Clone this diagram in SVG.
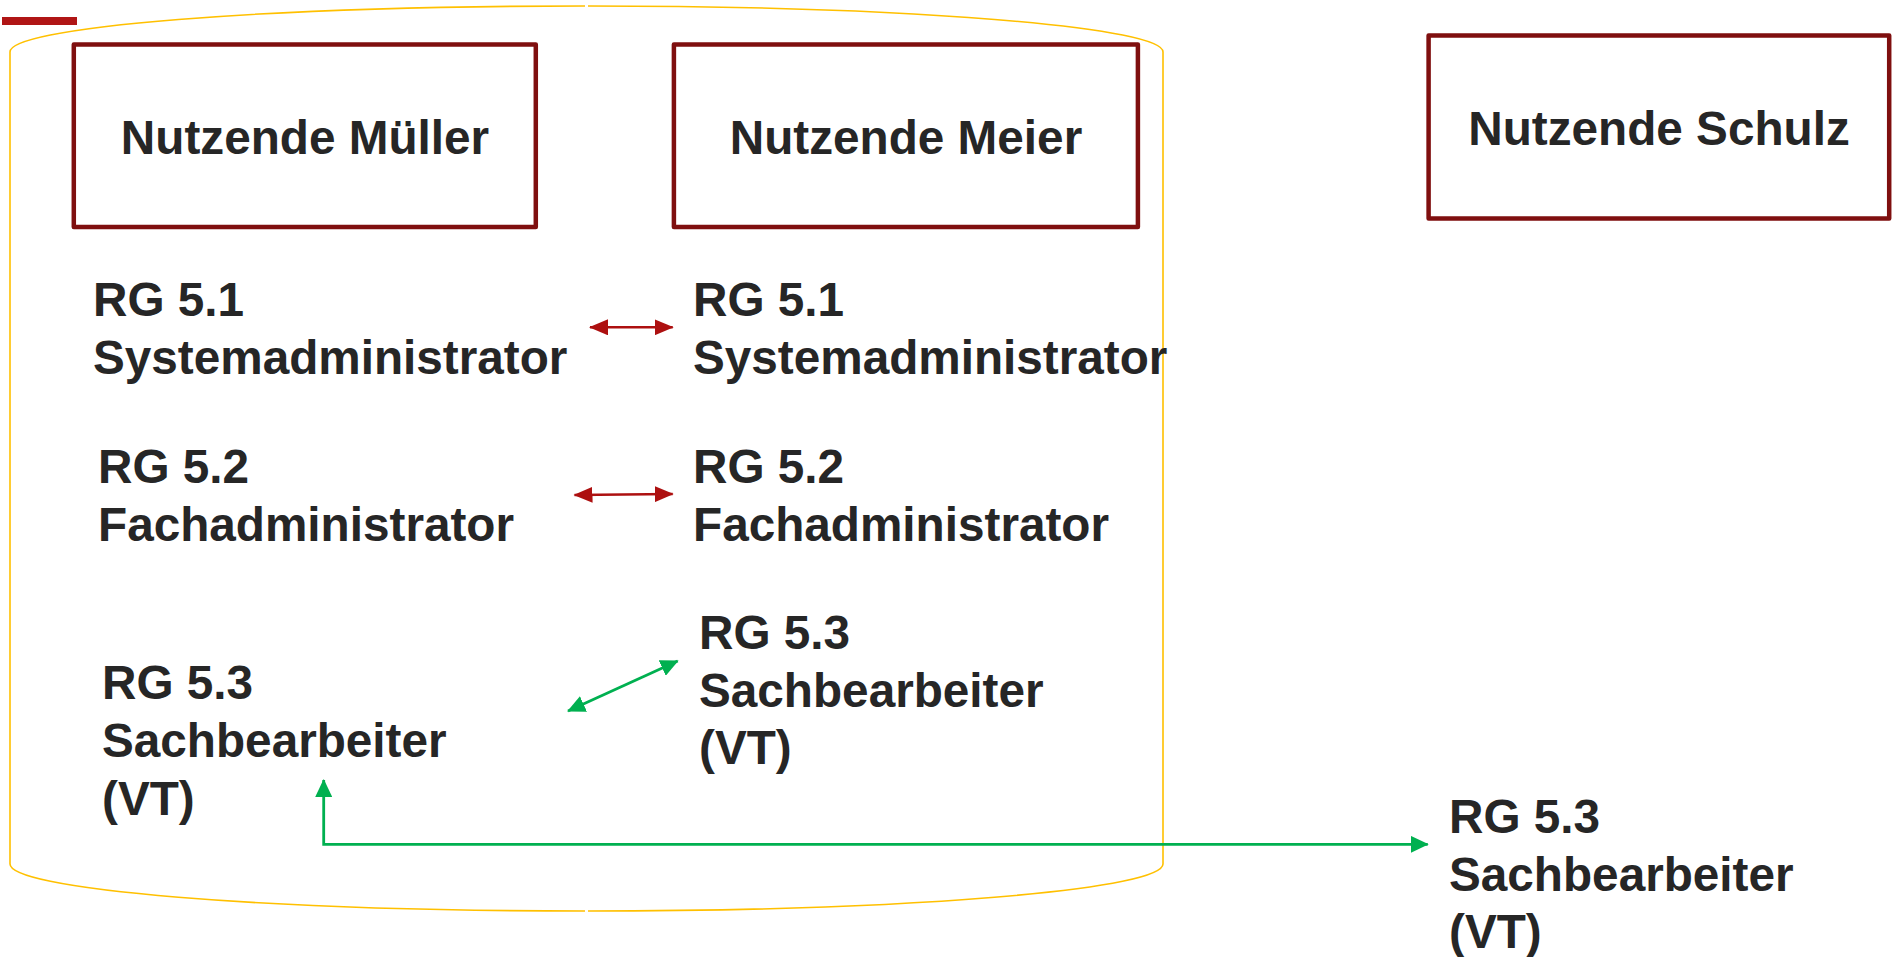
<svg xmlns="http://www.w3.org/2000/svg" width="1900" height="957" viewBox="0 0 1900 957">
<style>
.box{fill:#fff;stroke:#7f0f0f;stroke-width:4.5;stroke-linejoin:round}
.title{font-family:"Liberation Sans",Arial,sans-serif;font-weight:bold;font-size:47.7px;fill:#262626;text-anchor:middle}
.lbl{font-family:"Liberation Sans",Arial,sans-serif;font-weight:bold;font-size:47.7px;fill:#262626}
.cont{fill:none;stroke:#ffc000;stroke-width:1.6}
.red{fill:none;stroke:#ad1010;stroke-width:2.6}
.green{fill:none;stroke:#00b050;stroke-width:2.8}
</style>
<defs>
<marker id="ar" markerUnits="userSpaceOnUse" markerWidth="19" markerHeight="16" refX="18" refY="8" orient="auto-start-reverse">
<path d="M0,0 L19,8 L0,16 z" fill="#ad1010"/>
</marker>
<marker id="ag" markerUnits="userSpaceOnUse" markerWidth="18" markerHeight="17" refX="17" refY="8.5" orient="auto-start-reverse">
<path d="M0,0 L18,8.5 L0,17 z" fill="#00b050"/>
</marker>
</defs>
<rect x="2" y="17" width="75" height="8" fill="#b01515"/>
<g id="container">
<path class="cont" d="M585,6 A575,46 0 0 0 10,52 V864 A575,47 0 0 0 585,911"/>
<path class="cont" d="M588,6 A575,46 0 0 1 1163,52 V864 A575,47 0 0 1 588,911"/>
</g>
<g id="mueller">
<rect class="box" x="73.8" y="44.5" width="462" height="182.5"/>
<text class="title" x="305" y="154">Nutzende Müller</text>
</g>
<g id="meier">
<rect class="box" x="673.9" y="44.5" width="464" height="182.5"/>
<text class="title" x="906" y="154">Nutzende Meier</text>
</g>
<g id="schulz">
<rect class="box" x="1428.6" y="35.5" width="460.6" height="183"/>
<text class="title" x="1659" y="145">Nutzende Schulz</text>
</g>
<g id="m-rg51"><text class="lbl" x="93" y="316">RG 5.1</text><text class="lbl" x="93" y="374">Systemadministrator</text></g>
<g id="me-rg51"><text class="lbl" x="693" y="316">RG 5.1</text><text class="lbl" x="693" y="374">Systemadministrator</text></g>
<g id="m-rg52"><text class="lbl" x="98" y="483">RG 5.2</text><text class="lbl" x="98" y="541">Fachadministrator</text></g>
<g id="me-rg52"><text class="lbl" x="693" y="483">RG 5.2</text><text class="lbl" x="693" y="541">Fachadministrator</text></g>
<g id="m-rg53"><text class="lbl" x="102" y="699">RG 5.3</text><text class="lbl" x="102" y="757">Sachbearbeiter</text><text class="lbl" x="102" y="815">(VT)</text></g>
<g id="me-rg53"><text class="lbl" x="699" y="649">RG 5.3</text><text class="lbl" x="699" y="707">Sachbearbeiter</text><text class="lbl" x="699" y="764">(VT)</text></g>
<g id="s-rg53"><text class="lbl" x="1449" y="833">RG 5.3</text><text class="lbl" x="1449" y="891">Sachbearbeiter</text><text class="lbl" x="1449" y="948">(VT)</text></g>
<g id="connectors">
<line class="red" x1="590" y1="327.3" x2="672.7" y2="327.3" marker-start="url(#ar)" marker-end="url(#ar)"/>
<line class="red" x1="574.5" y1="495" x2="672.7" y2="494" marker-start="url(#ar)" marker-end="url(#ar)"/>
<line class="green" x1="568" y1="711" x2="677.7" y2="661" marker-start="url(#ag)" marker-end="url(#ag)"/>
<path class="green" d="M1427.7,844.3 H323.7 V780" marker-start="url(#ag)" marker-end="url(#ag)"/>
</g>
</svg>
